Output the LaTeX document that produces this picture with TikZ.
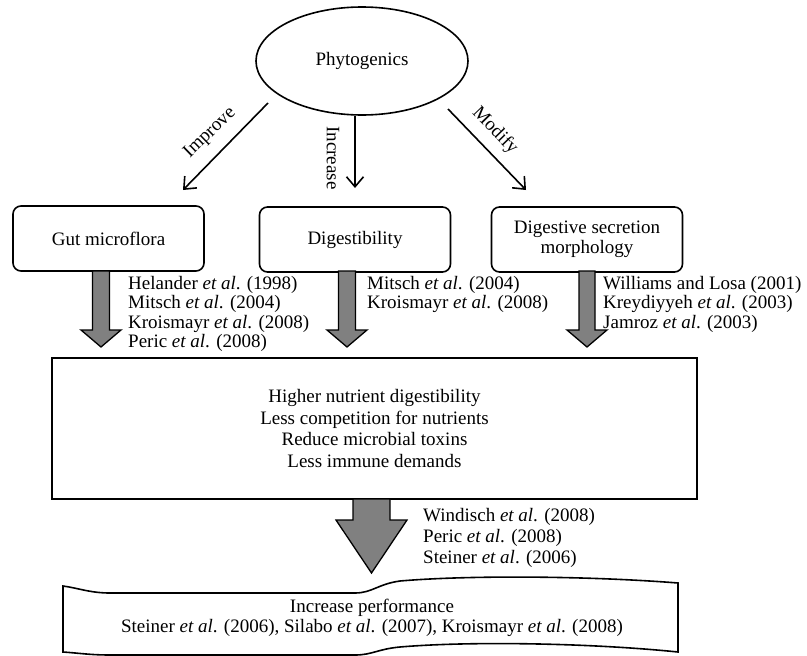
\documentclass[tikz,border=0pt]{standalone}
\usepackage{fontspec}
\setmainfont{Liberation Serif}
\usetikzlibrary{arrows.meta,shapes.geometric}
\definecolor{arrowgray}{HTML}{808080}
\newcommand{\etal}{\textit{et al}.}
% block arrow: x, top, head start, tip, shaft half width, head half width
\newcommand{\fatarrow}[6]{%
  \draw[fatbody] (#1-#5,#2) -- (#1-#5,#3) -- (#1-#6,#3) -- (#1,#4) -- (#1+#6,#3) -- (#1+#5,#3) -- (#1+#5,#2) -- cycle;}
\begin{document}
\begin{tikzpicture}[x=1pt,y=-1pt,
  every node/.style={font=\fontsize{19}{20}\selectfont},
  topic/.style={draw, rounded corners=8pt, line width=1.6pt, minimum width=191pt, minimum height=65pt, align=center, inner sep=2pt},
  refs/.style={anchor=north west, align=left, inner sep=0pt, font=\fontsize{19}{19.5}\selectfont},
  lbl/.style={inner sep=0pt},
  thin/.style={line width=1.6pt, -{Straight Barb[length=10pt,width=17pt]}},
  fatbody/.style={fill=arrowgray, draw=black, line width=1.3pt}]
\useasboundingbox (0,0) rectangle (807,656);

\node[ellipse, draw, line width=1.6pt, minimum width=212pt, minimum height=108pt] (phyto) at (362,61) {Phytogenics};

\node[topic] (gut) at (108.5,238.5) {Gut microflora};
\node[topic] (digest) at (355,239.5) {Digestibility};
\node[topic] (secretion) at (587,239.5) {Digestive secretion\\morphology};

% thin arrows
\coordinate (impS) at (268,103);
\coordinate (impE) at (183,190);
\coordinate (incE) at (355,188);
\coordinate (modS) at (448,109);
\coordinate (modE) at (526,190);
\draw[thin] (impS) -- (impE);
\draw[thin] (phyto.south -| incE) -- (incE);
\draw[thin] (modS) -- (modE);
\node[lbl, rotate=44] (improve) at (210,133) {Improve};
\node[lbl, rotate=-90] (increase) at (333,158) {Increase};
\node[lbl, rotate=-46] (modify) at (495,131) {Modify};

% gray arrows
\fatarrow{101}{271}{330}{347}{8.5}{20}
\fatarrow{347}{271}{330}{347}{8.5}{20}
\fatarrow{587}{271}{330}{347}{8}{20}

\node[refs] (refgut) at (128,276) {Helander \etal{} (1998)\\Mitsch \etal{} (2004)\\Kroismayr \etal{} (2008)\\Peric \etal{} (2008)};
\node[refs] (refdigest) at (367,276) {Mitsch \etal{} (2004)\\Kroismayr \etal{} (2008)};
\node[refs] (refsecretion) at (603,276) {Williams and Losa (2001)\\Kreydiyyeh \etal{} (2003)\\Jamroz \etal{} (2003)};

\node[draw, line width=1.6pt, minimum width=645pt, minimum height=141pt, align=center, font=\fontsize{19}{21.7}\selectfont] (effects) at (374.5,428.5) {Higher nutrient digestibility\\Less competition for nutrients\\Reduce microbial toxins\\Less immune demands};

\fatarrow{371.5}{499}{520}{573}{18.5}{35.5}
\node[refs, font=\fontsize{19}{21}\selectfont] (refeffects) at (423,508) {Windisch \etal{} (2008)\\Peric \etal{} (2008)\\Steiner \etal{} (2006)};

% wavy result box
\draw[line width=1.6pt] (63,586) .. controls (78,588) and (90,593) .. (110,593) -- (355,593)
  .. controls (372,593) and (378,584) .. (400,581) .. controls (470,575) and (590,576) .. (678,583)
  -- (678,652) .. controls (590,643) and (470,641) .. (400,647) .. controls (378,649) and (372,655) .. (355,655)
  -- (110,655) .. controls (90,655) and (78,653) .. (63,652) -- cycle;
\node[align=center] (perf) at (372,618) {Increase performance\\Steiner \etal{} (2006), Silabo \etal{} (2007), Kroismayr \etal{} (2008)};

\end{tikzpicture}
\end{document}
